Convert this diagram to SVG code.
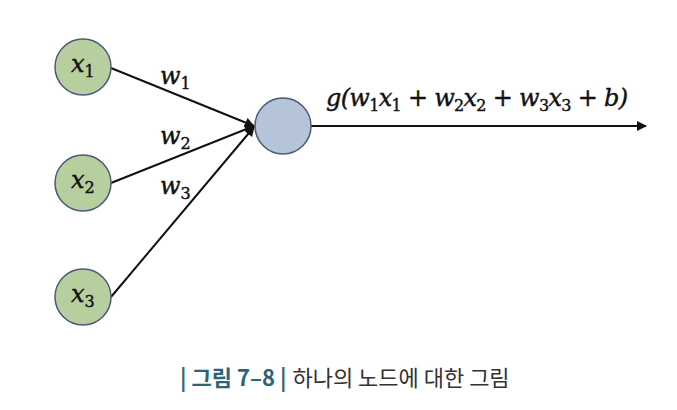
<svg xmlns="http://www.w3.org/2000/svg" width="677" height="410" viewBox="0 0 677 410">
<defs>
<style>
.in{fill:#b7cf9f;stroke:#4c5a78;stroke-width:1.5}
.out{fill:#b5c4d8;stroke:#4c5a78;stroke-width:1.5}
.m{font-family:"DejaVu Serif","Liberation Serif",serif;font-style:italic;font-size:24px;fill:#111;stroke:#111;stroke-width:0.4}
.s{font-size:16px;font-style:normal}
.e{stroke:#111;stroke-width:2;fill:none}
.cap{font-family:"Noto Sans CJK KR","Noto Sans",sans-serif;font-size:22px}
</style>
<marker id="ah2" viewBox="0 0 10 10" refX="9" refY="5" markerWidth="12" markerHeight="10" orient="auto" markerUnits="userSpaceOnUse">
<path d="M0,0 L10,5 L0,10 z" fill="#111"/>
</marker>
</defs>
<rect width="677" height="410" fill="#fff"/>
<g id="connectors">
<line class="e" x1="111" y1="68" x2="254" y2="126" marker-end="url(#ah2)"/>
<line class="e" x1="111" y1="183" x2="254" y2="126" marker-end="url(#ah2)"/>
<line class="e" x1="111" y1="297" x2="254" y2="127" marker-end="url(#ah2)"/>
<line class="e" x1="311" y1="126" x2="646" y2="126" marker-end="url(#ah2)"/>
<text class="m" x="160" y="84">w<tspan class="s" dy="5">1</tspan></text>
<text class="m" x="160" y="144">w<tspan class="s" dy="5">2</tspan></text>
<text class="m" x="160" y="194">w<tspan class="s" dy="5">3</tspan></text>
<text class="m" x="326" y="106" textLength="302" lengthAdjust="spacing">g(w<tspan class="s" dy="5">1</tspan><tspan dy="-5">x</tspan><tspan class="s" dy="5">1</tspan><tspan dy="-5" font-style="normal"> + </tspan>w<tspan class="s" dy="5">2</tspan><tspan dy="-5">x</tspan><tspan class="s" dy="5">2</tspan><tspan dy="-5" font-style="normal"> + </tspan>w<tspan class="s" dy="5">3</tspan><tspan dy="-5">x</tspan><tspan class="s" dy="5">3</tspan><tspan dy="-5" font-style="normal"> + </tspan>b)</text>
</g>
<g id="x1"><circle class="in" cx="83" cy="67" r="28"/><text class="m" x="71" y="72">x<tspan class="s" dy="5">1</tspan></text></g>
<g id="x2"><circle class="in" cx="83" cy="183" r="28"/><text class="m" x="71" y="188">x<tspan class="s" dy="5">2</tspan></text></g>
<g id="x3"><circle class="in" cx="83" cy="297" r="28"/><text class="m" x="71" y="302">x<tspan class="s" dy="5">3</tspan></text></g>
<g id="out"><circle class="out" cx="283" cy="126" r="28"/></g>
<g id="caption">
<text class="cap" x="180" y="386"><tspan fill="#2b6478" font-weight="bold">| 그림 7–8 |</tspan><tspan fill="#333" dx="6">하나의 노드에 대한 그림</tspan></text>
</g>
</svg>
